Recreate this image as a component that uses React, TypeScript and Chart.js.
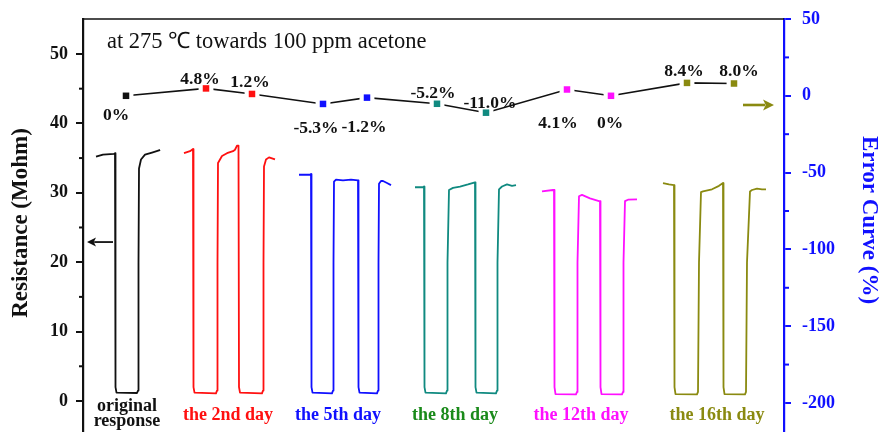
import React, { useEffect, useRef } from "react";
import { Chart, registerables } from "chart.js";

Chart.register(...registerables);

// ---------- axis ticks ----------
const leftTicks = [0, 10, 20, 30, 40, 50];
const leftMinorTicks = [5, 15, 25, 35, 45];
const rightTicks = [-200, -150, -100, -50, 0, 50];
const rightMinorTicks = [-175, -125, -75, -25, 25];

// ---------- response curves: [time, resistance (Mohm)] ----------
const originalResponse: [number, number][] = [
  [13, 35.2], [20, 35.5], [31, 35.6], [32, 35.7], [32.5, 2], [33.5, 1.2], [54, 1.15], [55, 1.5],
  [55.5, 20], [56, 33.5], [58, 34.8], [62, 35.5], [69, 35.8], [76, 36.1], [77, 36.2],
];
const day2Response: [number, number][] = [
  [101, 35.7], [107, 36.0], [110, 36.3], [110.5, 2], [111.5, 1.2], [133, 1.1], [134, 1.5],
  [134.5, 20], [135, 34.3], [139, 35.3], [144, 35.7], [150, 36.0], [152, 36.2], [154, 36.8],
  [155.5, 36.8], [156, 2], [157, 1.2], [179, 1.1], [180, 1.5], [180.5, 20], [181, 33.8],
  [183, 34.8], [186, 35.1], [192, 34.8],
];
const day5Response: [number, number][] = [
  [216, 32.6], [227, 32.6], [228, 32.7], [228.5, 2], [229.5, 1.2], [249, 1.1], [250, 1.5],
  [250.5, 20], [251, 31.6], [253, 31.9], [260, 31.8], [268, 31.9], [275, 31.8], [275.5, 2],
  [276.5, 1.2], [294, 1.1], [295, 1.5], [295.5, 20], [296, 31.3], [298, 31.7], [300, 31.7],
  [304, 31.4], [308, 31.1],
];
const day8Response: [number, number][] = [
  [332, 30.8], [340, 30.8], [341, 30.9], [341.5, 2], [342.5, 1.2], [363, 1.1], [364, 1.5],
  [364.5, 20], [366, 30.4], [370, 30.7], [377, 30.9], [385, 31.2], [392, 31.5], [392.5, 2],
  [393.5, 1.2], [413, 1.1], [414, 1.5], [414.5, 20], [416, 30.5], [419, 30.9], [424, 31.2],
  [429, 31.0], [433, 31.1],
];
const day12Response: [number, number][] = [
  [459, 30.2], [470, 30.4], [471, 30.4], [471.5, 2], [472.5, 1.0], [493, 0.95], [494, 1.3],
  [494.5, 20], [496, 29.5], [499, 29.7], [507, 29.2], [516, 28.8], [517, 28.8], [517.5, 2],
  [518.5, 1.0], [539, 0.95], [540, 1.3], [540.5, 20], [542, 28.8], [545, 29.0], [554, 29.05],
];
const day16Response: [number, number][] = [
  [580, 31.4], [586, 31.2], [591, 31.1], [591.5, 2], [592.5, 1.0], [614, 0.95], [615, 1.3],
  [616, 20], [618, 30.1], [620, 30.2], [629, 30.5], [636, 31.0], [640, 31.4], [640.5, 2],
  [641.5, 1.0], [662, 0.95], [663, 1.3], [664, 20], [667, 30.2], [669, 30.4], [674, 30.6],
  [679, 30.5], [683, 30.5],
];

// ---------- error curve ----------
const errorTimes = [43, 123, 169, 240, 284, 354, 403, 484, 528, 604, 651];
const errorValues = [0, 4.8, 1.2, -5.3, -1.2, -5.2, -11.0, 4.1, 0, 8.4, 8.0];
const errorLabels = ["0%", "4.8%", "1.2%", "-5.3%", "-1.2%", "-5.2%", "-11.0%", "4.1%", "0%", "8.4%", "8.0%"];

// ---------- categories ----------
const dayNames = [["original", "response"], ["the 2nd day"], ["the 5th day"], ["the 8th day"], ["the 12th day"], ["the 16th day"]];
const dayCenters = [44, 145, 255, 372, 498, 634];

// label placement (pixel offsets from each marker) — styling only
const labelDx = [-10, -6, -2, -7, -3, -4, 4, -9, -1, -3, 5];
const labelDy = [20, -9, -11, 25, 30, -10, -9, 34, 28, -11, -12];

const BLACK = "#111111";
const RED = "#ff1010";
const BLUE = "#1010ff";
const TEAL = "#108a80";
const MAGENTA = "#ff10ff";
const OLIVE = "#8a8a10";
const curveColors = [BLACK, RED, BLUE, TEAL, MAGENTA, OLIVE];
const dayTextColors = [BLACK, RED, BLUE, "#1a8a1a", MAGENTA, OLIVE];
const errorColors = [BLACK, RED, RED, BLUE, BLUE, TEAL, TEAL, MAGENTA, MAGENTA, OLIVE, OLIVE];

// arrows (time range, value)
const leftArrow = { from: 30, to: 4, value: 22.9 };
const rightArrow = { from: 660, to: 691, value: 42.65 };

const SERIF = "'Liberation Serif', 'Times New Roman', serif";

export default function App() {
  const ref = useRef<HTMLCanvasElement | null>(null);

  useEffect(() => {
    document.body.style.margin = "0";
    const canvas = ref.current!;
    const responses = [originalResponse, day2Response, day5Response, day8Response, day12Response, day16Response];
    const errPts = errorTimes.map((t, i) => ({ x: t, y: errorValues[i] }));

    const decor = {
      id: "decor",
      afterDatasetsDraw(chart: any) {
        const { ctx, chartArea, scales } = chart;
        const x = scales.x, y = scales.y, y2 = scales.y2;
        ctx.save();
        // top frame line
        ctx.strokeStyle = "#111";
        ctx.lineWidth = 1.6;
        ctx.beginPath();
        ctx.moveTo(chartArea.left, chartArea.top);
        ctx.lineTo(chartArea.right, chartArea.top);
        ctx.stroke();
        // minor ticks
        ctx.lineWidth = 2;
        ctx.strokeStyle = "#111";
        leftMinorTicks.forEach((v) => {
          const py = y.getPixelForValue(v);
          ctx.beginPath();
          ctx.moveTo(chartArea.left - 4, py);
          ctx.lineTo(chartArea.left, py);
          ctx.stroke();
        });
        ctx.strokeStyle = "#1010ff";
        rightMinorTicks.forEach((v) => {
          const py = y2.getPixelForValue(v);
          ctx.beginPath();
          ctx.moveTo(chartArea.right, py);
          ctx.lineTo(chartArea.right + 5, py);
          ctx.stroke();
        });
        // title text
        ctx.fillStyle = "#111";
        ctx.font = `22.5px ${SERIF}`;
        ctx.textAlign = "left";
        ctx.textBaseline = "middle";
        ctx.fillText("at 275 \u2103 towards 100 ppm acetone", chartArea.left + 24, chartArea.top + 23);
        // error labels
        ctx.font = `bold 17.5px ${SERIF}`;
        ctx.textAlign = "center";
        errorLabels.forEach((lab, i) => {
          const px = x.getPixelForValue(errorTimes[i]) + labelDx[i];
          const py = y2.getPixelForValue(errorValues[i]) + labelDy[i];
          ctx.fillText(lab, px, py);
        });
        // day names
        const zero = y.getPixelForValue(0);
        ctx.font = `bold 18px ${SERIF}`;
        dayNames.forEach((lines, i) => {
          ctx.fillStyle = dayTextColors[i];
          const px = x.getPixelForValue(dayCenters[i]);
          if (lines.length === 1) {
            ctx.fillText(lines[0], px, zero + 14);
          } else {
            ctx.fillText(lines[0], px, zero + 5);
            ctx.fillText(lines[1], px, zero + 20);
          }
        });
        // arrows
        const drawArrow = (a: any, color: string, lw: number, head: number) => {
          const xs = x.getPixelForValue(a.from);
          const xe = x.getPixelForValue(a.to);
          const py = y.getPixelForValue(a.value);
          const dir = Math.sign(xe - xs);
          ctx.strokeStyle = color;
          ctx.fillStyle = color;
          ctx.lineWidth = lw;
          ctx.beginPath();
          ctx.moveTo(xs, py);
          ctx.lineTo(xe - dir * head * 0.8, py);
          ctx.stroke();
          ctx.beginPath();
          ctx.moveTo(xe, py);
          ctx.lineTo(xe - dir * head, py - head * 0.5);
          ctx.lineTo(xe - dir * head * 0.75, py);
          ctx.lineTo(xe - dir * head, py + head * 0.5);
          ctx.closePath();
          ctx.fill();
        };
        drawArrow(leftArrow, "#111", 1.8, 9);
        drawArrow(rightArrow, OLIVE, 2.6, 11);
        // axis titles
        ctx.font = `bold 23px ${SERIF}`;
        ctx.textAlign = "center";
        ctx.textBaseline = "middle";
        ctx.fillStyle = "#111";
        ctx.save();
        ctx.translate(21, 223);
        ctx.rotate(-Math.PI / 2);
        ctx.fillText("Resistance (Mohm)", 0, 0);
        ctx.restore();
        ctx.fillStyle = "#1010ff";
        ctx.save();
        ctx.translate(869, 220);
        ctx.rotate(Math.PI / 2);
        ctx.fillText("Error Curve (%)", 0, 0);
        ctx.restore();
        ctx.restore();
      },
    };

    const noPad = () => ({ left: 0, top: 0, right: 0, bottom: 0 });
    const fitY = (w: number) => (s: any) => {
      s.width = w;
      s.paddingTop = 0;
      s.paddingBottom = 0;
      s.getPadding = noPad;
    };

    const chart = new Chart(canvas, {
      type: "line",
      data: {
        datasets: [
          {
            label: "error markers",
            data: errPts,
            yAxisID: "y2",
            showLine: false,
            pointStyle: "rect",
            pointRadius: 4.6,
            pointBorderWidth: 0,
            pointBackgroundColor: errorColors,
            order: 1,
          } as any,
          {
            label: "halo",
            data: errPts,
            yAxisID: "y2",
            showLine: false,
            pointStyle: "rect",
            pointRadius: 10.5,
            pointBorderWidth: 0,
            pointBackgroundColor: "#ffffff",
            order: 2,
          },
          {
            label: "error line",
            data: errPts,
            yAxisID: "y2",
            borderColor: "#111",
            borderWidth: 1.6,
            pointRadius: 0,
            order: 3,
          },
          ...responses.map((r, i) => ({
            label: "day" + i,
            data: r.map(([t, v]) => ({ x: t, y: v })),
            yAxisID: "y",
            borderColor: curveColors[i],
            borderWidth: 1.8,
            pointRadius: 0,
            borderJoinStyle: "round" as const,
            order: 4,
          })),
        ],
      },
      options: {
        responsive: false,
        animation: false,
        events: [],
        layout: { autoPadding: false, padding: { top: 19, bottom: 0, left: 0, right: 0 } },
        plugins: { legend: { display: false }, tooltip: { enabled: false }, title: { display: false } },
        scales: {
          x: { type: "linear", min: 0, max: 701, display: false },
          y: {
            type: "linear",
            position: "left",
            min: -4.47,
            max: 55.04,
            afterBuildTicks: (s: any) => {
              s.ticks = leftTicks.map((v) => ({ value: v }));
            },
            afterFit: fitY(83),
            ticks: {
              color: "#111",
              padding: 8,
              font: { family: SERIF, size: 18, weight: "bold" },
              callback: (v: any) => String(v),
            },
            grid: { drawOnChartArea: false, drawTicks: true, tickLength: 7, color: "#111", lineWidth: 2 },
            border: { color: "#111", width: 2.2 },
          },
          y2: {
            type: "linear",
            position: "right",
            min: -218.9,
            max: 50,
            afterBuildTicks: (s: any) => {
              s.ticks = rightTicks.map((v) => ({ value: v }));
            },
            afterFit: fitY(97),
            ticks: {
              color: "#1010ff",
              padding: 11,
              font: { family: SERIF, size: 18, weight: "bold" },
              callback: (v: any) => String(v),
            },
            grid: { drawOnChartArea: false, drawTicks: true, tickLength: 7, color: "#1010ff", lineWidth: 2 },
            border: { color: "#1010ff", width: 2.2 },
          },
        },
      },
      plugins: [decor],
    } as any);

    return () => chart.destroy();
  }, []);

  return (
    <div style={{ width: 881, height: 432 }}>
      <canvas ref={ref} width={881} height={432} />
    </div>
  );
}
